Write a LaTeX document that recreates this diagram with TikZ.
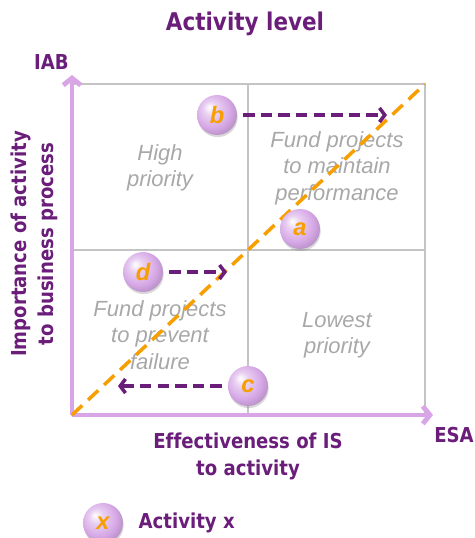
\documentclass[tikz,border=0pt]{standalone}
\usepackage{fontspec}
\setmainfont{Liberation Sans}
\newfontfamily\labelfont[FakeStretch=0.88,Ligatures=NoCommon]{DejaVu Sans}
\usetikzlibrary{shadows,arrows.meta,positioning}
\definecolor{ispurple}{RGB}{106,30,122}
\definecolor{axislilac}{RGB}{216,166,230}
\definecolor{gridgray}{RGB}{196,196,196}
\definecolor{textgray}{RGB}{168,168,168}
\definecolor{dashorange}{RGB}{247,158,0}
\definecolor{orb}{RGB}{214,168,230}
\pgfdeclareradialshading{orb}{\pgfpoint{-10bp}{10bp}}{color(0bp)=(white);
  color(9bp)=(orb!55!white); color(22bp)=(orb); color(34bp)=(orb!80!black);
  color(50bp)=(orb!65!black)}
\tikzstyle{activity}=[circle, shading=orb, minimum size=0.8cm, inner sep=0pt,
  text=dashorange, font=\fontsize{13.5}{14}\selectfont\bfseries\itshape,
  drop shadow={opacity=0.3, shadow xshift=0.4pt, shadow yshift=-1.2pt}]
\tikzstyle{heading}=[text=ispurple, font=\fontsize{13.9}{16}\labelfont\bfseries]
\tikzstyle{axislabel}=[text=ispurple, align=center, inner sep=0pt,
  font=\fontsize{11.7}{15.3}\labelfont\bfseries]
\tikzstyle{quadrant}=[text=textgray, align=center, inner sep=0pt,
  font=\fontsize{12.5}{15}\selectfont\itshape]
\tikzstyle{gridline}=[draw, color=gridgray, line width=0.8pt]
\tikzstyle{axisline}=[draw, color=axislilac, line width=2.8pt,
  -{Straight Barb[length=4pt,width=10pt]}]
\tikzstyle{diagonal}=[draw, color=dashorange, line width=2pt,
  dash pattern=on 8pt off 4.5pt]
\tikzstyle{move}=[draw, color=ispurple, line width=2pt,
  dash pattern=on 6.5pt off 3.5pt, shorten <=0.12cm,
  -{Straight Barb[length=3pt,width=8pt]}]
\newcommand{\activity}[2]{node (#1) [activity] {#2}}
\begin{document}
\begin{tikzpicture}
\useasboundingbox (0,0) rectangle (9.5,-10.76);

% Corners of the matrix
\coordinate (o) at (1.44,-8.30);
\coordinate (tr) at (8.50,-1.68);
\coordinate (mid) at (4.96,-5.00);

% Draw the grid
\path [gridline] (o) rectangle (tr);
\path [gridline] (mid |- tr) -- (mid |- o);
\path [gridline] (o |- mid) -- (tr |- mid);

% Draw the axes
\path (o)+(0.0,6.80) coordinate (yend);
\path (o)+(7.22,0.0) coordinate (xend);
\path [axisline] (o) -- (yend);
\path [axisline] (o) -- (xend);

% Titles and axis labels
\path (4.90,-0.48) node (title) [heading] {Activity level};
\path (yend)+(-0.41,0.26) node (iab) [axislabel] {IAB};
\path (xend)+(0.42,-0.40) node (esa) [axislabel] {ESA};
\path (mid |- o)+(0.0,-0.83) node (xlabel) [axislabel]
  {Effectiveness of IS\\to activity};
\path (o |- mid)+(-0.76,0.12) node (ylabel) [axislabel, rotate=90]
  {Importance of activity\\to business process};

% Quadrant texts
\path (mid)+(-1.76, 1.64) node (q1) [quadrant] {High\\priority};
\path (mid)+( 1.78, 1.64) node (q2) [quadrant] {Fund projects\\to maintain\\performance};
\path (mid)+(-1.76,-1.70) node (q3) [quadrant] {Fund projects\\to prevent\\failure};
\path (mid)+( 1.78,-1.70) node (q4) [quadrant] {Lowest\\priority};

% Diagonal
\path [diagonal] (o) -- (tr);

% Draw diagram elements
\path (o)+(2.90,6.00) \activity{actb}{b};
\path (o)+(4.56,3.72) \activity{acta}{a};
\path (o)+(1.42,2.86) \activity{actd}{d};
\path (o)+(3.52,0.58) \activity{actc}{c};

\path (actb)+( 3.40,0.0) coordinate (tob);
\path (actd)+( 1.68,0.0) coordinate (tod);
\path (actc)+(-2.60,0.0) coordinate (toc);

% Draw arrows between elements
\path [move] (actb) -- (tob);
\path [move] (actd) -- (tod);
\path [move] (actc) -- (toc);

% Legend
\path (o)+(0.62,-2.16) \activity{actx}{x};
\path (actx.east)+(0.30,0.0) node (legend) [axislabel, anchor=west] {Activity x};
\end{tikzpicture}
\end{document}
